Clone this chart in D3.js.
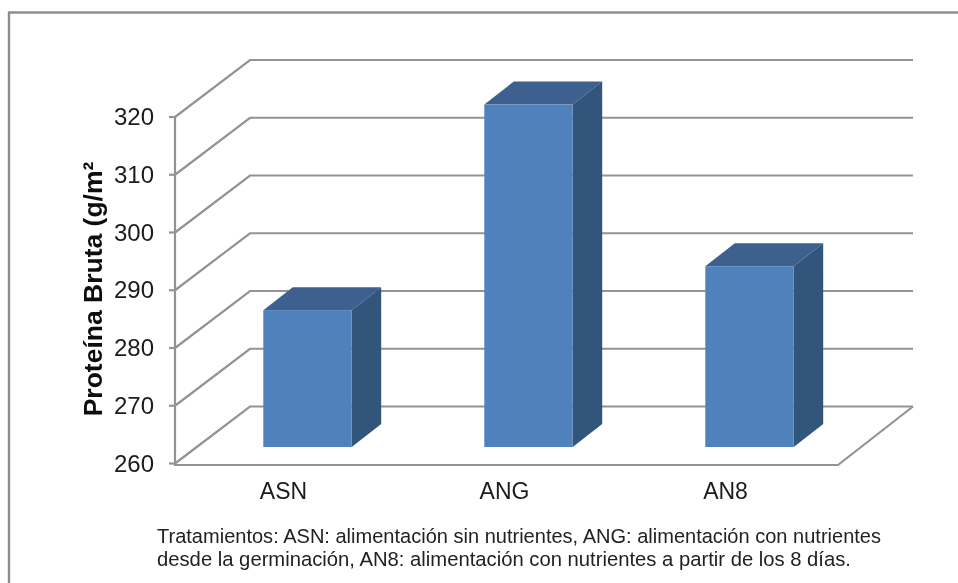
<!DOCTYPE html>
<html><head><meta charset="utf-8"><style>html,body{margin:0;padding:0;background:#fff}svg{display:block}text{font-family:"Liberation Sans",Arial,sans-serif}</style>
<script src="https://cdn.jsdelivr.net/npm/d3@7/dist/d3.min.js"></script></head><body><script>
const categories = ["ASN","ANG","AN8"];
const proteina = [283.7,319.3,291.3];
const yTicks = [260,270,280,290,300,310,320];
const yTitle = "Proteína Bruta (g/m²";
const noteLines = ["Tratamientos: ASN: alimentación sin nutrientes, ANG: alimentación con nutrientes","desde la germinación, AN8: alimentación con nutrientes a partir de los 8 días."];
const noteWidths = [724,694];

const W=958,H=583;
const svg=d3.select("body").append("svg").attr("width",W).attr("height",H);
svg.append("defs").append("filter").attr("id","soft")
  .attr("filterUnits","userSpaceOnUse").attr("x",0).attr("y",0).attr("width",W).attr("height",H)
  .append("feGaussianBlur").attr("stdDeviation",0.45);
const root=svg.append("g").attr("filter","url(#soft)");
const grey="#939393";
root.append("rect").attr("width",W).attr("height",H).attr("fill","#fff");
root.append("rect").attr("x",9).attr("y",12.5).attr("width",W+20).attr("height",H+20).attr("fill","#fff").attr("stroke","#8c8c8c").attr("stroke-width",2.4);

const yScale=d3.scaleLinear().domain([260,320]).range([463.5,117]);
const xScale=d3.scaleBand().domain(categories).range([175,838]).paddingInner(0.6).paddingOuter(0.3);
const depth={dx:75,dy:-57};
const barDepth={dx:29.5,dy:-23};
const barShift={dx:22,dy:-16.5};

const g=root.append("g").attr("fill","none").attr("stroke",grey).attr("stroke-width",2.2);
yTicks.forEach(t=>{
  g.append("path").attr("d",d3.line()([[175,yScale(t)],[175+depth.dx,yScale(t)+depth.dy],[913,yScale(t)+depth.dy]]));
});
g.append("path").attr("d",d3.line()([[175,yScale(320)],[175,465],[838,465],[913,yScale(260)+depth.dy]]));
yTicks.forEach(t=>{ g.append("line").attr("x1",169).attr("x2",175).attr("y1",yScale(t)).attr("y2",yScale(t)); });

const bars=root.append("g").selectAll("g").data(categories).join("g");
const barBase=yScale(260)+barShift.dy;
bars.each(function(c,i){
  const s=d3.select(this),x0=xScale(c)+barShift.dx,w=xScale.bandwidth(),t=yScale(proteina[i])+barShift.dy;
  const l=d3.line();
  s.append("path").attr("d",l([[x0,t],[x0+barDepth.dx,t+barDepth.dy],[x0+w+barDepth.dx,t+barDepth.dy],[x0+w,t]])+"Z").attr("fill","#3c618f");
  s.append("path").attr("d",l([[x0+w,t],[x0+w+barDepth.dx,t+barDepth.dy],[x0+w+barDepth.dx,barBase+barDepth.dy],[x0+w,barBase]])+"Z").attr("fill","#32547c");
  s.append("rect").attr("x",x0).attr("y",t).attr("width",w).attr("height",barBase-t).attr("fill","#4f81bd");
});

root.append("g").selectAll("text").data(yTicks).join("text").attr("x",154).attr("y",d=>yScale(d)+8).attr("text-anchor","end").attr("font-size",24).attr("fill","#1a1a1a").text(d=>d);
root.append("g").selectAll("text").data(categories).join("text").attr("x",c=>xScale(c)+xScale.bandwidth()/2-2).attr("y",499).attr("text-anchor","middle").attr("font-size",23).attr("fill","#1a1a1a").text(c=>c);
root.append("text").attr("transform","translate(102,289) rotate(-90)").attr("text-anchor","middle").attr("font-size",26.5).attr("font-weight","bold").attr("fill","#111").text(yTitle);
root.append("g").selectAll("text").data(noteLines).join("text").attr("x",157).attr("y",(d,i)=>542.5+i*23.5).attr("font-size",20.5).attr("textLength",(d,i)=>noteWidths[i]).attr("lengthAdjust","spacingAndGlyphs").attr("fill","#222").text(d=>d);
</script></body></html>
